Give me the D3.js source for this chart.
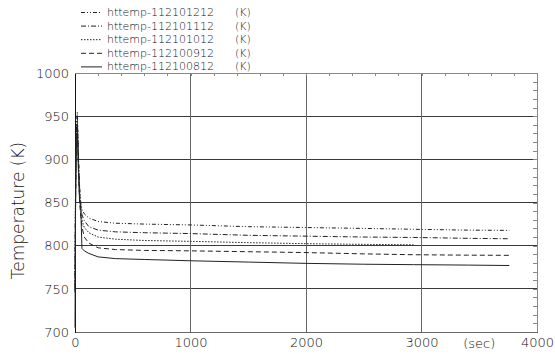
<!DOCTYPE html>
<html><head><meta charset="utf-8">
<script src="https://cdn.jsdelivr.net/npm/d3@7"></script>
<style>body{margin:0;background:#fff}svg{display:block}text{font-family:"DejaVu Sans",sans-serif;font-weight:200;fill:#111}</style>
</head><body><svg id="c" width="555" height="354"></svg>
<script>
const times = [0, 4, 10, 20, 30, 40, 50, 60, 80, 120, 200, 350, 600, 1000, 1500, 2000, 2500, 2930, 3400, 3760];
const s1212 = [752, 860, 930, 955, 905, 870, 850, 842, 837, 832, 828, 826, 825, 824, 822, 821, 820, 819, 818, 817.7];
const s1112 = [750, 850, 925, 950, 900, 862, 845, 836, 829, 822, 818, 816, 815, 814, 812, 811, 810, 809.5, 808.5, 808];
const s1012 = [748, 845, 920, 945, 895, 857, 840, 830, 821, 815, 810, 807.5, 806, 805, 803.5, 802.3, 801.5, 801, null, null];
const s0912 = [746, 840, 915, 940, 890, 850, 834, 822, 810, 803, 797.5, 795.5, 794.5, 794, 793, 792, 790.5, 789.5, 789, 788.8];
const s0812 = [705, 830, 905, 935, 885, 852, 845, 797, 794, 791, 787, 785, 784, 782.5, 781, 779.5, 778.5, 778, 777.5, 777];
const seriesNames = ["httemp-112101212", "httemp-112101112", "httemp-112101012", "httemp-112100912", "httemp-112100812"];
const seriesVals = [s1212, s1112, s1012, s0912, s0812];
const dashes = ["4,2,1,2,1,2", "5,2,1,2", "1.5,1.5", "5,3", null];
const xTicks = [0, 1000, 2000, 3000, 4000];
const yTicks = [700, 750, 800, 850, 900, 950, 1000];

(function () {
const svg = d3.select("#c");
const L = 75, R = 537, T = 73, B = 332;
const x = d3.scaleLinear().domain([0, 4000]).range([L, R]);
const y = d3.scaleLinear().domain([700, 1000]).range([B, T]);

svg.append("g").selectAll("line").data(yTicks.slice(1, -1)).join("line")
  .attr("x1", L).attr("x2", R).attr("y1", d => y(d)).attr("y2", d => y(d))
  .attr("stroke", "#3a3a3a").attr("stroke-width", 1).attr("shape-rendering", "crispEdges");
svg.append("g").selectAll("line").data(xTicks.slice(1, -1)).join("line")
  .attr("y1", T).attr("y2", B).attr("x1", d => x(d)).attr("x2", d => x(d))
  .attr("stroke", "#666").attr("stroke-width", 1).attr("shape-rendering", "crispEdges");

const topAx = svg.append("g").attr("transform", `translate(0,${T})`)
  .call(d3.axisTop(x).tickValues(d3.range(0, 4001, 200)).tickSize(-3).tickFormat(""));
const rightAx = svg.append("g").attr("transform", `translate(${R},0)`)
  .call(d3.axisRight(y).tickValues(d3.range(700, 1001, 10)).tickSize(-4).tickFormat(""));
[topAx, rightAx].forEach(g => { g.selectAll("path,line").attr("stroke", "#888").attr("shape-rendering", "crispEdges"); });

const bottomAx = svg.append("g").attr("transform", `translate(0,${B})`)
  .call(d3.axisBottom(x).tickValues(xTicks).tickSize(0).tickFormat(d3.format("d")));
bottomAx.select(".domain").attr("stroke", "#666").attr("shape-rendering", "crispEdges");
bottomAx.selectAll("text").attr("font-size", 13).attr("dy", "0.95em");
svg.append("text").attr("x", x(3500)).attr("y", B + 16).attr("text-anchor", "middle")
  .attr("font-size", 13).text("(sec)");

const leftAx = svg.append("g").attr("transform", `translate(${L},0)`)
  .call(d3.axisLeft(y).tickValues(yTicks).tickSize(0).tickPadding(6).tickFormat(d3.format("d")));
leftAx.select(".domain").attr("stroke", "#111").attr("shape-rendering", "crispEdges");
leftAx.selectAll("text").attr("font-size", 13);
[bottomAx, leftAx].forEach(g => g.attr("font-family", null).attr("font-size", null));

svg.append("text").attr("transform", `translate(24,${(T + B) / 2 + 8}) rotate(-90)`)
  .attr("text-anchor", "middle").attr("font-size", 17).text("Temperature (K)");

const line = d3.line().defined(d => d[1] != null).x(d => x(d[0])).y(d => y(d[1]));
seriesVals.forEach((vals, i) => {
  svg.append("path").datum(times.map((t, j) => [t, vals[j]]))
    .attr("d", line).attr("fill", "none").attr("stroke", "#222").attr("stroke-width", 1)
    .attr("stroke-dasharray", dashes[i]);
});

const leg = svg.append("g");
seriesNames.forEach((n, i) => {
  const yy = 12 + i * 13.6;
  leg.append("line").attr("x1", 81).attr("x2", 102).attr("y1", yy + 0.5).attr("y2", yy + 0.5)
    .attr("stroke", "#222").attr("stroke-dasharray", dashes[i]);
  leg.append("text").attr("x", 107).attr("y", yy + 4).attr("font-size", 11).text(n);
  leg.append("text").attr("x", 235).attr("y", yy + 4).attr("font-size", 11).text("(K)");
});
})();
</script></body></html>
